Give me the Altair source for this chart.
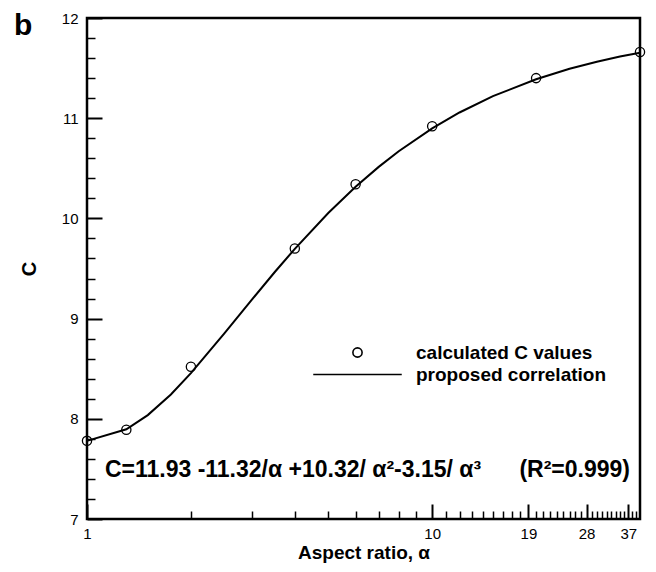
import altair as alt
import pandas as pd

# ---- data ----
alpha_pts = [1, 1.3, 2, 4, 6, 10, 20, 40]
c_pts = [7.78, 7.89, 8.52, 9.70, 10.34, 10.92, 11.40, 11.66]

alpha_curve = [1, 1.3, 1.5, 1.75, 2, 2.5, 3, 3.5, 4, 5, 6, 7, 8, 10, 12, 15, 20, 25, 30, 35, 40]
c_curve = [7.780, 7.895, 8.037, 8.243, 8.456, 8.852, 9.187, 9.465, 9.696, 10.054,
           10.315, 10.514, 10.670, 10.898, 11.057, 11.220, 11.389, 11.494, 11.564, 11.615, 11.653]

x_major = [1, 10, 19, 28, 37]
x_minor = [2, 3, 4, 5, 6, 7, 8, 9, 11, 12, 13, 14, 15, 16, 17, 18,
           20, 21, 22, 23, 24, 25, 26, 27, 29, 30, 31, 32, 33, 34, 35, 36, 38, 39]
y_major = [7, 8, 9, 10, 11, 12]
y_minor = [7.2, 7.4, 7.6, 7.8, 8.2, 8.4, 8.6, 8.8, 9.2, 9.4, 9.6, 9.8,
           10.2, 10.4, 10.6, 10.8, 11.2, 11.4, 11.6, 11.8]

series_names = ["calculated C values", "proposed correlation"]
equation = ("C=11.93 -11.32/\u03b1 +10.32/ \u03b1\u00b2-3.15/ \u03b1\u00b3"
            "\u00a0\u00a0\u00a0\u00a0\u00a0\u00a0(R\u00b2=0.999)")
panel_label = "b"

FONT = "Liberation Sans"

pts = pd.DataFrame({"alpha": alpha_pts, "C": c_pts, "s": [series_names[0]] * len(alpha_pts)})
curve = pd.DataFrame({"alpha": alpha_curve, "C": c_curve})
eq = pd.DataFrame({"t": [equation]})
lab = pd.DataFrame({"t": [panel_label]})

xs = alt.Scale(type="log", domain=[1, 40], nice=False)
ys = alt.Scale(domain=[7, 12], nice=False, zero=False)

x_major_axis = alt.Axis(orient="bottom", values=x_major, format="d", domain=False, grid=False,
                        tickSize={"expr": "-15"}, tickWidth=2, tickColor="black",
                        labelPadding=22, labelFontSize=15, labelFont=FONT, labelColor="black",
                        labelFlush=False, labelOverlap=False,
                        title="Aspect ratio, \u03b1", titleFont=FONT, titleFontSize=19,
                        titleFontWeight="bold", titleColor="black", titlePadding=2)
y_major_axis = alt.Axis(orient="left", values=y_major, format="d", domain=False, grid=False,
                        tickSize={"expr": "-15"}, tickWidth=2, tickColor="black",
                        labelPadding=24, labelFontSize=15, labelFont=FONT, labelColor="black",
                        labelFlush=False, labelOverlap=False,
                        title="C", titleFont=FONT, titleFontSize=20,
                        titleFontWeight="bold", titleColor="black", titlePadding=22)
x_minor_axis = alt.Axis(orient="bottom", values=x_minor, labels=False, domain=False, grid=False,
                        tickSize={"expr": "-8"}, tickWidth=1.5, tickColor="black", title="")
y_minor_axis = alt.Axis(orient="left", values=y_minor, labels=False, domain=False, grid=False,
                        tickSize={"expr": "-8"}, tickWidth=1.5, tickColor="black", title="")

line = alt.Chart(curve).mark_line(color="black", strokeWidth=2).encode(
    x=alt.X("alpha:Q", scale=xs, axis=x_major_axis),
    y=alt.Y("C:Q", scale=ys, axis=y_major_axis),
)

points = alt.Chart(pts).mark_point(filled=False, color="black", size=85, strokeWidth=1.3, opacity=1).encode(
    x=alt.X("alpha:Q", scale=xs, axis=x_minor_axis),
    y=alt.Y("C:Q", scale=ys, axis=y_minor_axis),
    shape=alt.Shape("s:N", scale=alt.Scale(domain=series_names, range=["circle", "M-9.6,0H9.6"]),
                    legend=alt.Legend(title=None, orient="none", legendX=261, legendY=325,
                                      symbolSize=85, symbolStrokeColor="black",
                                      symbolFillColor="transparent", symbolStrokeWidth=1.6,
                                      labelFont=FONT, labelFontSize=19, labelFontWeight="bold",
                                      labelColor="black", labelOffset=49, labelLimit=400,
                                      rowPadding=2, padding=0)),
)

text = alt.Chart(eq).mark_text(align="left", baseline="middle", fontSize=23, fontWeight="bold",
                               font=FONT, color="black").encode(
    x=alt.XDatum(1.127, type="quantitative", axis=None),
    y=alt.YDatum(7.49, type="quantitative", axis=None),
    text="t:N",
)

label_b = alt.Chart(lab).mark_text(align="left", baseline="alphabetic", fontSize=30, fontWeight="bold",
                                   font=FONT, color="black").encode(
    x=alt.value(-73), y=alt.value(17), text="t:N",
)

chart = alt.layer(line, points, text, label_b).resolve_axis(x="independent", y="independent").properties(
    width=553, height=501,
    autosize=alt.AutoSizeParams(type="none"),
    padding={"left": 87, "top": 18, "right": 16, "bottom": 53},
).configure(background="white").configure_view(stroke="black", strokeWidth=2.5)

chart.save("out.html", embed_options={"renderer": "svg", "actions": False})
